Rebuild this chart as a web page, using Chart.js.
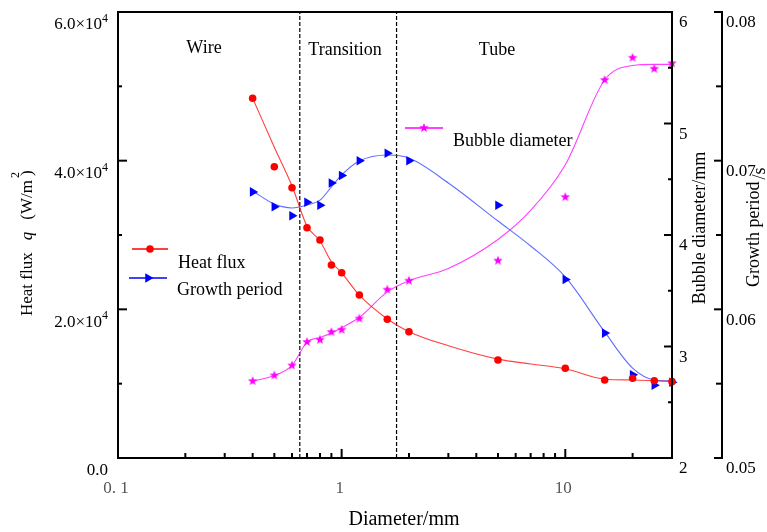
<!DOCTYPE html>
<html>
<head>
<meta charset="utf-8">
<script src="https://cdn.jsdelivr.net/npm/chart.js@4.4.1/dist/chart.umd.min.js"></script>
<style>
  html, body { margin: 0; padding: 0; background: #fff; }
  canvas { display: block; }
</style>
</head>
<body>
<canvas id="myChart" width="767" height="532"></canvas>
<script>
// measured points
const diameters = [0.4, 0.5, 0.6, 0.7, 0.8, 0.9, 1.0, 1.2, 1.6, 2, 5, 10, 15, 20, 25, 30];
const heatFlux = [48390, 39190, 36360, 30980, 29330, 25970, 24930, 21930, 18660, 16990, 13180, 12070, 10490, 10720, 10400, 10270];
const growthPeriod = [0.0679, 0.0669, 0.0663, 0.0672, 0.0670, 0.0685, 0.0690, 0.0700, 0.0705, 0.0700, 0.0670, 0.0620, 0.0584, 0.0556, 0.0549, 0.0551];
const bubbleDiameter = [2.69, 2.74, 2.83, 3.04, 3.06, 3.13, 3.15, 3.25, 3.51, 3.59, 3.77, 4.34, 5.39, 5.59, 5.49, 5.54];

// fitted curves
const fitDiameters = [0.4, 0.5, 0.6, 0.7, 0.8, 0.9, 1.0, 1.2, 1.6, 2, 3, 5, 7, 10, 15, 20, 25, 30];
const heatFluxFit = [48400, 41800, 36600, 31200, 29200, 26400, 24900, 21900, 18700, 17000, 15100, 13300, 12650, 12000, 10600, 10500, 10400, 10300];
const growthFit = [0.06796, 0.06708, 0.06682, 0.06702, 0.06735, 0.06823, 0.06904, 0.06998, 0.07038, 0.07018, 0.06850, 0.06594, 0.06426, 0.06218, 0.05848, 0.05605, 0.05525, 0.05518];
const bubbleFit = [2.69, 2.74, 2.83, 3.04, 3.08, 3.12, 3.17, 3.26, 3.49, 3.59, 3.70, 3.96, 4.22, 4.63, 5.39, 5.52, 5.53, 5.53];

// regime boundaries (mm) and names
const regimeBounds = [0.65, 1.76];
const regimeNames = ["Wire", "Transition", "Tube"];

// axis ticks
const xMajorTicks = [0.1, 1, 10];
const xTickLabels = ["0. 1", "1", "10"];
const xMinorTicks = [0.2, 0.3, 0.4, 0.5, 0.6, 0.7, 0.8, 0.9, 2, 3, 4, 5, 6, 7, 8, 9, 20];
const qTicks = [0, 20000, 40000, 60000];
const qTickLabels = ["0.0", "2.0×10^4", "4.0×10^4", "6.0×10^4"];
const qMinorTicks = [10000, 30000, 50000];
const bTicks = [2, 3, 4, 5, 6];
const bTickLabels = ["2", "3", "4", "5", "6"];
const bMinorTicks = [2.5, 3.5, 4.5, 5.5];
const gTicks = [0.05, 0.06, 0.07, 0.08];
const gTickLabels = ["0.05", "0.06", "0.07", "0.08"];
const gMinorTicks = [0.055, 0.065, 0.075];

const FONT = "'Liberation Serif', 'Times New Roman', serif";
const RED = "#ff0000", BLUE = "#0000ff", MAGENTA = "#ff00ff";

function pts(xs, ys) {
  return xs.map((x, i) => ({ x: x, y: ys[i] }));
}

// filled five point star used as marker
function makeStar(color, r) {
  const c = document.createElement("canvas");
  const s = Math.ceil(r * 2 + 2);
  c.width = s; c.height = s;
  const g = c.getContext("2d");
  g.translate(s / 2, s / 2);
  g.beginPath();
  for (let i = 0; i < 10; i++) {
    const rad = (i % 2 === 0) ? r : r * 0.42;
    const a = -Math.PI / 2 + i * Math.PI / 5;
    g.lineTo(Math.cos(a) * rad, Math.sin(a) * rad);
  }
  g.closePath();
  g.fillStyle = color;
  g.fill();
  return c;
}
const starImg = makeStar(MAGENTA, 5);

function drawTriangle(ctx, x, y, r) {
  ctx.beginPath();
  ctx.moveTo(x + r, y);
  ctx.lineTo(x - r / 2, y - r * 0.866);
  ctx.lineTo(x - r / 2, y + r * 0.866);
  ctx.closePath();
  ctx.fill();
}

function supText(ctx, str, x, y, align, size) {
  // "a^b" -> a with superscript b
  const parts = str.split("^");
  ctx.font = size + "px " + FONT;
  const w0 = ctx.measureText(parts[0]).width;
  let w1 = 0;
  if (parts[1]) {
    ctx.font = Math.round(size * 0.68) + "px " + FONT;
    w1 = ctx.measureText(parts[1]).width;
  }
  let sx = x;
  if (align === "right") sx = x - w0 - w1;
  if (align === "center") sx = x - (w0 + w1) / 2;
  ctx.textAlign = "left";
  ctx.textBaseline = "middle";
  ctx.font = size + "px " + FONT;
  ctx.fillText(parts[0], sx, y);
  if (parts[1]) {
    ctx.font = Math.round(size * 0.68) + "px " + FONT;
    ctx.fillText(parts[1], sx + w0, y - 6);
  }
}

const axesPlugin = {
  id: "originAxes",
  afterDatasetsDraw(chart) {
    const { ctx, chartArea: a, scales } = chart;
    const sx = scales.x, sq = scales.yQ, sb = scales.yB, sg = scales.yG;
    const gAxisX = a.right + 50;
    ctx.save();
    ctx.strokeStyle = "#000";
    ctx.fillStyle = "#000";

    // frame
    ctx.lineWidth = 2;
    ctx.beginPath();
    ctx.moveTo(a.left, a.top);
    ctx.lineTo(a.right, a.top);
    ctx.lineTo(a.right, a.bottom);
    ctx.lineTo(a.left, a.bottom);
    ctx.closePath();
    ctx.stroke();
    ctx.beginPath();
    ctx.moveTo(gAxisX, a.top - 1);
    ctx.lineTo(gAxisX, a.bottom + 1);
    ctx.stroke();

    // ticks
    const tick = (x1, y1, x2, y2) => { ctx.beginPath(); ctx.moveTo(x1, y1); ctx.lineTo(x2, y2); ctx.stroke(); };
    xMajorTicks.forEach(v => { const p = sx.getPixelForValue(v); tick(p, a.bottom, p, a.bottom - 9); });
    xMinorTicks.forEach(v => { const p = sx.getPixelForValue(v); tick(p, a.bottom, p, a.bottom - 5); });
    qTicks.forEach(v => { const p = sq.getPixelForValue(v); tick(a.left, p, a.left + 9, p); });
    qMinorTicks.forEach(v => { const p = sq.getPixelForValue(v); tick(a.left, p, a.left + 4, p); });
    bTicks.forEach(v => { const p = sb.getPixelForValue(v); tick(a.right, p, a.right - 8, p); });
    bMinorTicks.forEach(v => { const p = sb.getPixelForValue(v); tick(a.right, p, a.right - 4, p); });
    gTicks.forEach(v => { const p = sg.getPixelForValue(v); tick(gAxisX, p, gAxisX - 8, p); });
    gMinorTicks.forEach(v => { const p = sg.getPixelForValue(v); tick(gAxisX, p, gAxisX - 6, p); });

    // tick labels
    qTicks.forEach((v, i) => supText(ctx, qTickLabels[i], a.left - 10, sq.getPixelForValue(v) + 13, "right", 17));
    bTicks.forEach((v, i) => supText(ctx, bTickLabels[i], a.right + 7, sb.getPixelForValue(v) + 11, "left", 17));
    gTicks.forEach((v, i) => supText(ctx, gTickLabels[i], gAxisX + 4, sg.getPixelForValue(v) + 11, "left", 17));
    ctx.fillStyle = "#555";
    xMajorTicks.forEach((v, i) => {
      ctx.font = "17px " + FONT;
      ctx.textAlign = "center";
      ctx.textBaseline = "middle";
      ctx.fillText(xTickLabels[i], sx.getPixelForValue(v) - 2, a.bottom + 31);
    });
    ctx.fillStyle = "#000";

    // axis titles
    ctx.font = "20px " + FONT;
    ctx.textAlign = "center";
    ctx.textBaseline = "middle";
    ctx.fillText("Diameter/mm", 404, a.bottom + 62);

    // left title, rotated
    ctx.save();
    ctx.translate(28, 316);
    ctx.rotate(-Math.PI / 2);
    ctx.textAlign = "left";
    ctx.textBaseline = "middle";
    let u = 0;
    ctx.font = "17px " + FONT;
    ctx.fillText("Heat flux", u, 0);
    u += ctx.measureText("Heat flux").width + 12;
    ctx.font = "italic 17px " + FONT;
    ctx.fillText("q", u, 0);
    u += ctx.measureText("q").width + 12;
    ctx.font = "17px " + FONT;
    ctx.fillText("(W/m", u, 0);
    u += ctx.measureText("(W/m").width;
    ctx.font = "12px " + FONT;
    ctx.fillText("2", u + 2, -12);
    ctx.font = "17px " + FONT;
    ctx.fillText(")", u + 4, 0);
    ctx.restore();

    ctx.save();
    ctx.translate(700, 228);
    ctx.rotate(-Math.PI / 2);
    ctx.font = "18px " + FONT;
    ctx.textAlign = "center";
    ctx.textBaseline = "middle";
    ctx.fillText("Bubble diameter/mm", 0, 0);
    ctx.restore();

    ctx.save();
    ctx.translate(754, 287);
    ctx.rotate(-Math.PI / 2);
    ctx.font = "18px " + FONT;
    ctx.textAlign = "left";
    ctx.textBaseline = "middle";
    ctx.fillText("Growth period", 0, 0);
    const gw = ctx.measureText("Growth period").width;
    ctx.fillText("/s", gw + 2, 6);
    ctx.restore();

    // regime names
    ctx.font = "18px " + FONT;
    ctx.textAlign = "center";
    ctx.textBaseline = "middle";
    const regimeX = [204, 345, 497];
    regimeNames.forEach((n, i) => ctx.fillText(n, regimeX[i], i === 0 ? 48 : 50));

    // legends
    ctx.lineWidth = 1.5;
    ctx.font = "18px " + FONT;
    ctx.textAlign = "left";
    ctx.strokeStyle = RED;
    tick(132, 249, 168, 249);
    ctx.fillStyle = RED;
    ctx.beginPath(); ctx.arc(150, 249, 3.8, 0, Math.PI * 2); ctx.fill();
    ctx.fillStyle = "#000";
    ctx.fillText("Heat flux", 178, 263);

    ctx.strokeStyle = BLUE;
    tick(129, 278, 167, 278);
    ctx.fillStyle = BLUE;
    drawTriangle(ctx, 148, 278, 5.5);
    ctx.fillStyle = "#000";
    ctx.fillText("Growth period", 177, 290);

    ctx.strokeStyle = MAGENTA;
    tick(405, 128, 443, 128);
    ctx.drawImage(starImg, 424 - starImg.width / 2, 128 - starImg.height / 2);
    ctx.fillStyle = "#000";
    ctx.fillText("Bubble diameter", 453, 141);

    ctx.restore();
  }
};

const ctx = document.getElementById("myChart").getContext("2d");
const myChart = new Chart(ctx, {
  type: "line",
  data: {
    datasets: [
      {
        data: pts(diameters, heatFlux), yAxisID: "yQ", showLine: false,
        pointStyle: "circle", pointRadius: 3.8, backgroundColor: RED, borderColor: RED, borderWidth: 0, clip: false,
      },
      {
        data: pts(diameters, growthPeriod), yAxisID: "yG", showLine: false,
        pointStyle: "triangle", pointRotation: 90, pointRadius: 5.5, backgroundColor: BLUE, borderColor: BLUE, borderWidth: 0, clip: false,
      },
      {
        data: pts(diameters, bubbleDiameter), yAxisID: "yB", showLine: false,
        pointStyle: starImg, pointRadius: 5, clip: false,
      },
      {
        data: pts(fitDiameters, heatFluxFit), yAxisID: "yQ", borderColor: "rgba(255,0,0,0.75)", borderWidth: 1.1,
        pointRadius: 0, cubicInterpolationMode: "monotone", fill: false,
      },
      {
        data: pts(fitDiameters, growthFit), yAxisID: "yG", borderColor: "rgba(40,60,255,0.75)", borderWidth: 1.1,
        pointRadius: 0, cubicInterpolationMode: "monotone", fill: false,
      },
      {
        data: pts(fitDiameters, bubbleFit), yAxisID: "yB", borderColor: "rgba(255,0,255,0.75)", borderWidth: 1.1,
        pointRadius: 0, cubicInterpolationMode: "monotone", fill: false,
      },
      ...regimeBounds.map((b) => ({
        data: [{ x: b, y: 0 }, { x: b, y: 60000 }], yAxisID: "yQ", borderColor: "#000", borderWidth: 1.2,
        borderDash: [4, 2], pointRadius: 0, fill: false,
      })),
    ],
  },
  options: {
    responsive: false,
    animation: false,
    devicePixelRatio: 1,
    layout: { padding: { left: 118, right: 95, top: 12, bottom: 74 } },
    plugins: {
      legend: { display: false },
      tooltip: { enabled: false },
    },
    scales: {
      x: { type: "logarithmic", min: 0.1, max: 30, display: false },
      yQ: { type: "linear", position: "left", min: 0, max: 60000, display: false },
      yB: { type: "linear", position: "right", min: 2, max: 6, display: false },
      yG: { type: "linear", position: "right", min: 0.05, max: 0.08, display: false },
    },
  },
  plugins: [axesPlugin],
});
</script>
</body>
</html>
